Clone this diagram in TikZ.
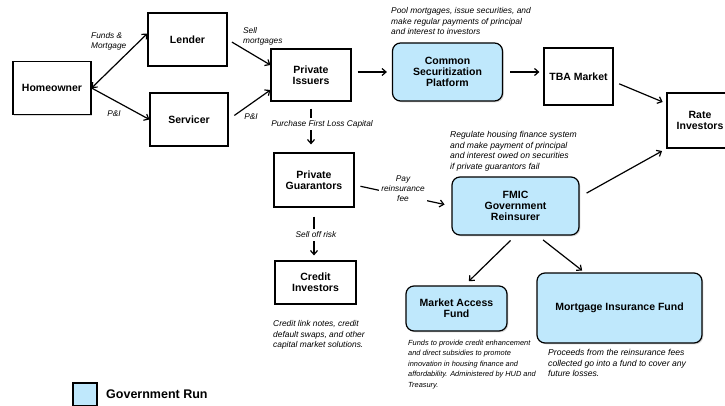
\documentclass[tikz,border=0pt]{standalone}
\usepackage{fontspec}
\setmainfont{Liberation Sans}
\usetikzlibrary{arrows.meta,shadows}
\definecolor{govblue}{RGB}{191,232,252}
\begin{document}
\begin{tikzpicture}[x=1pt,y=-1pt,
 box/.style={draw=black,line width=1.2pt,fill=white,align=center,
   font=\fontsize{10.5}{11}\selectfont\bfseries,inner sep=0pt,
   drop shadow={shadow xshift=1.3pt,shadow yshift=-1.3pt,opacity=0.3}},
 gov/.style={box,fill=govblue,rounded corners=8pt},
 conn/.style={line width=1.2pt,-{Straight Barb[length=4pt,width=7pt]}},
 dconn/.style={line width=1.2pt,{Straight Barb[length=4pt,width=7pt]}-{Straight Barb[length=4pt,width=7pt]}},
 lbl/.style={font=\fontsize{8.3}{10}\selectfont\itshape,align=center,inner sep=1pt},
 lblw/.style={lbl,fill=white,inner sep=2.5pt},
 note/.style={font=\fontsize{8.4}{10.5}\selectfont\itshape,align=left,anchor=north west,inner sep=0pt},
 smallnote/.style={note,font=\fontsize{7.4}{10.5}\selectfont\itshape},
]
\useasboundingbox (0,0) rectangle (725,406);

% boxes
\node[box,minimum width=78pt,minimum height=53pt] (home) at (52,88) {Homeowner};
\node[box,minimum width=79pt,minimum height=53pt] (lender) at (187.5,39.5) {Lender};
\node[box,minimum width=78pt,minimum height=53pt] (servicer) at (189,119.5) {Servicer};
\node[box,minimum width=80pt,minimum height=52pt] (issuers) at (311,75) {Private\\Issuers};
\node[gov,minimum width=110pt,minimum height=58pt] (csp) at (447.5,72) {Common\\Securitization\\Platform};
\node[box,minimum width=69pt,minimum height=57pt] (tba) at (578.5,76.5) {TBA Market};
\node[box,minimum width=66pt,minimum height=55pt] (rate) at (700,120.5) {Rate\\Investors};
\node[box,minimum width=80pt,minimum height=54pt] (guar) at (314,180) {Private\\Guarantors};
\node[box,minimum width=81pt,minimum height=43pt] (credit) at (315.5,282.5) {Credit\\Investors};
\node[gov,minimum width=127pt,minimum height=58pt] (fmic) at (515.5,206) {FMIC\\Government\\Reinsurer};
\node[gov,minimum width=101pt,minimum height=45pt] (maf) at (456.5,308.5) {Market Access\\Fund};
\node[gov,minimum width=165pt,minimum height=70pt] (mif) at (619.5,308) {Mortgage Insurance Fund};

% connectors
\draw[dconn] (home.east) -- ([yshift=6pt]lender.west);
\draw[conn] (home.east) -- (servicer.west);
\draw[conn,shorten <=5pt] (lender.east) -- ([yshift=10pt]issuers.west);
\draw[conn,shorten <=7pt] (servicer.east) -- ([yshift=-15pt]issuers.west);
\draw[conn,shorten <=6pt,shorten >=5pt] (issuers.east |- csp.west) -- (csp.west);
\draw[conn,shorten <=7pt,shorten >=4pt] (csp.east) -- (csp.east -| tba.west);
\draw[conn,shorten <=6pt,shorten >=4pt] ([yshift=-5pt]tba.east) -- ([yshift=17pt]rate.west);
\draw[conn,shorten <=8pt,shorten >=5pt] ([yshift=9pt]fmic.east) -- (rate.south west);
\draw[conn,shorten <=7pt,shorten >=8pt] (issuers.south) -- (issuers.south |- guar.north);
\draw[conn,shorten <=9pt,shorten >=5pt] (guar.south) -- (guar.south |- credit.north);
\draw[conn,shorten <=6pt,shorten >=7pt] ([yshift=-5pt]guar.east) -- (fmic.west);
\draw[conn,shorten <=7pt,shorten >=6pt] (fmic.south) -- ([xshift=8pt]maf.north);
\draw[conn,shorten <=7pt,shorten >=3pt] ([xshift=22pt]fmic.south) -- ([xshift=-35pt]mif.north);

% connector labels
\node[lbl,align=left,anchor=north west] (lfm) at (90,31) {Funds \&\\Mortgage};
\node[lbl] (lpi1) at (114,114) {P\&I};
\node[lbl,align=left,anchor=north west] (lsell) at (242,26) {Sell\\mortgages};
\node[lbl] (lpi2) at (251,117) {P\&I};
\node[lblw] (lflc) at (322,124) {Purchase First Loss Capital};
\node[lblw] (lsor) at (316,235) {Sell off risk};
\node[lblw] (lpay) at (403,189) {Pay\\reinsurance\\fee};

% notes
\node[note] (npool) at (391,7.5) {Pool mortgages, issue securities, and\\make regular payments of principal\\and interest to investors};
\node[note,font=\fontsize{8.6}{10.4}\selectfont\itshape] (nreg) at (450,131.5) {Regulate housing finance system\\and make payment of principal\\and interest owed on securities\\if private guarantors fail};
\node[note] (ncred) at (273,320.5) {Credit link notes, credit\\default swaps, and  other\\capital market solutions.};
\node[smallnote] (nfund) at (408,339.5) {Funds to provide credit enhancement\\and direct subsidies to promote\\innovation in housing finance and\\affordability. Administered by HUD and\\Treasury.};
\node[note,font=\fontsize{8.6}{10.3}\selectfont\itshape] (nproc) at (548,349.5) {Proceeds from the reinsurance fees\\collected go into a fund to cover any\\future losses.};

% legend
\node[gov,rounded corners=0pt,minimum width=24pt,minimum height=23pt] (leg) at (85,394.5) {};
\node[anchor=west,font=\fontsize{12.5}{13}\selectfont\bfseries,inner sep=0pt] (legt) at (106,394.5) {Government Run};
\end{tikzpicture}
\end{document}
